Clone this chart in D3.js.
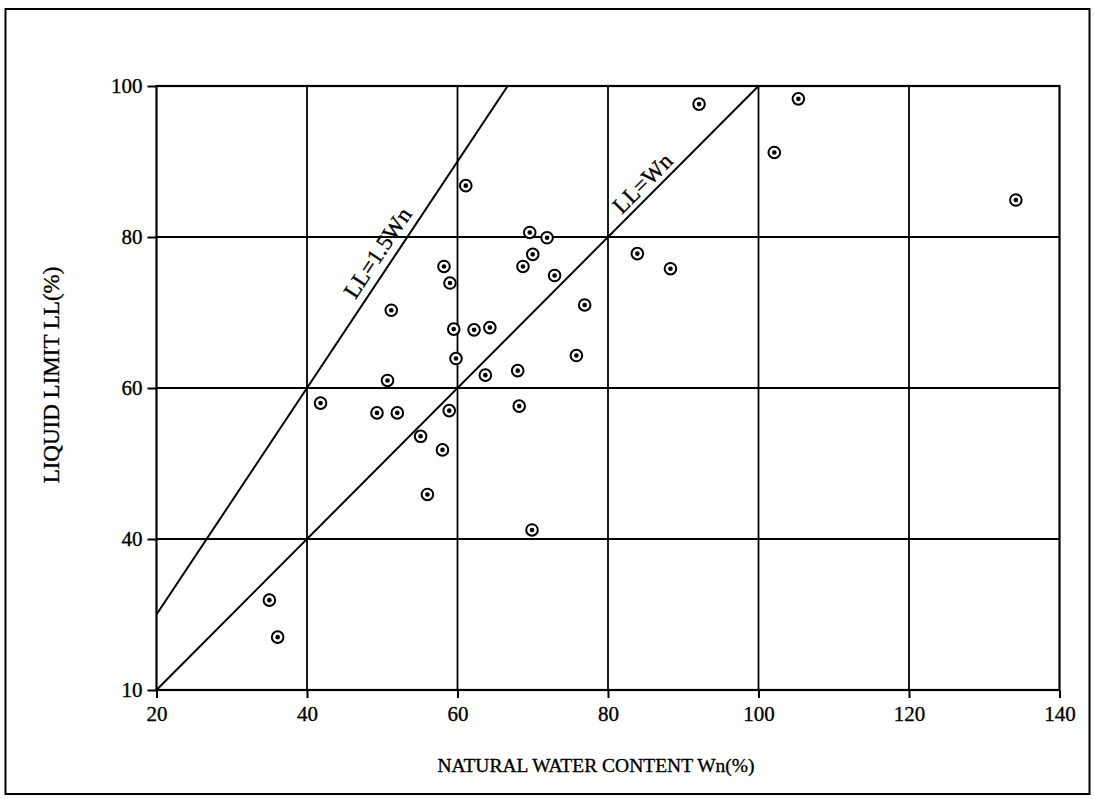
<!DOCTYPE html>
<html>
<head>
<meta charset="utf-8">
<script src="https://cdn.jsdelivr.net/npm/d3@7"></script>
<style>
  html, body { margin: 0; padding: 0; background: #fff; }
  svg { display: block; }
  text { font-family: "Liberation Serif", "Times New Roman", serif; fill: #000; stroke: #000; stroke-width: 0.35px; }
</style>
</head>
<body>
<svg id="chart" width="1094" height="799"></svg>
<script>
// ---- data ----
const wn = [35.0, 36.1, 41.8, 49.3, 52.0, 50.7, 51.2, 55.1, 56.0, 58.0, 58.9, 58.2, 59.0, 59.5, 59.8, 61.1, 62.2, 64.3, 63.7, 68.0, 68.2, 68.7, 69.6, 70.0, 69.9, 71.9, 72.9, 75.8, 76.9, 83.9, 88.3, 92.1, 102.1, 105.3, 134.2];
const ll = [31.9, 27.0, 58.0, 56.7, 56.7, 61.0, 70.3, 53.6, 45.9, 51.8, 57.0, 76.1, 73.9, 67.8, 63.9, 86.8, 67.7, 68.0, 61.7, 62.3, 57.6, 76.1, 80.6, 77.7, 41.2, 79.9, 74.9, 64.3, 71.0, 77.8, 75.8, 97.6, 91.2, 98.3, 84.9];
const xTickValues = [20, 40, 60, 80, 100, 120, 140];
const xTickLabels = ["20", "40", "60", "80", "100", "120", "140"];
const yTickValues = [20, 40, 60, 80, 100];
const yTickLabels = ["10", "40", "60", "80", "100"];
const lineRatios = [1.5, 1.0];
const lineLabels = ["LL=1.5Wn", "LL=Wn"];
const xTitle = "NATURAL WATER CONTENT Wn(%)";
const yTitle = "LIQUID LIMIT LL(%)";

// ---- layout ----
const svg = d3.select("#chart");
const L = 156.5, R = 1059.5, T = 86, B = 690;
const x = d3.scaleLinear().domain([20, 140]).range([L, R]);
const y = d3.scaleLinear().domain([20, 100]).range([B, T]);

// outer frame
svg.append("rect").attr("x", 5.5).attr("y", 9).attr("width", 1084).attr("height", 785)
  .attr("fill", "none").attr("stroke", "#000").attr("stroke-width", 2);

// grid
const g = svg.append("g");
g.selectAll("line.vg").data(xTickValues.slice(1, -1)).join("line")
  .attr("x1", d => x(d)).attr("x2", d => x(d)).attr("y1", T).attr("y2", B)
  .attr("stroke", "#000").attr("stroke-width", 1.8);
g.selectAll("line.hg").data(yTickValues.slice(1, -1)).join("line")
  .attr("x1", L).attr("x2", R).attr("y1", d => y(d)).attr("y2", d => y(d))
  .attr("stroke", "#000").attr("stroke-width", 1.8);

// axes
const xAxis = d3.axisBottom(x).tickValues(xTickValues)
  .tickFormat((d, i) => xTickLabels[i]).tickSize(8).tickPadding(8);
const yAxis = d3.axisLeft(y).tickValues(yTickValues)
  .tickFormat((d, i) => yTickLabels[i]).tickSize(9).tickPadding(5);
const gx = svg.append("g").attr("transform", `translate(0,${B})`).call(xAxis);
const gy = svg.append("g").attr("transform", `translate(${L},0)`).call(yAxis);
[gx, gy].forEach(a => {
  a.select(".domain").remove();
  a.selectAll(".tick line").attr("stroke", "#000").attr("stroke-width", 2);
  a.selectAll(".tick text").style("font-family", '"Liberation Serif", serif')
    .style("font-size", "21px").attr("fill", "#000");
});

// plot border
svg.append("rect").attr("x", L).attr("y", T).attr("width", R - L).attr("height", B - T)
  .attr("fill", "none").attr("stroke", "#000").attr("stroke-width", 2.2);

// reference lines LL = k * Wn, clipped to plot
svg.append("clipPath").attr("id", "clip").append("rect")
  .attr("x", L).attr("y", T).attr("width", R - L).attr("height", B - T);
const refG = svg.append("g").attr("clip-path", "url(#clip)");
lineRatios.forEach(k => {
  const w0 = 20, w1 = Math.min(140, 100 / k);
  refG.append("line")
    .attr("x1", x(w0)).attr("y1", y(k * w0))
    .attr("x2", x(w1)).attr("y2", y(k * w1))
    .attr("stroke", "#000").attr("stroke-width", 2);
});

// line labels
const labelPos = [[49.4, 77.9], [84.6, 87.1]];
lineRatios.forEach((k, i) => {
  const ang = Math.atan2(y(k * 60) - y(k * 40), x(60) - x(40)) * 180 / Math.PI;
  const px = x(labelPos[i][0]), py = y(labelPos[i][1]);
  svg.append("text")
    .attr("transform", `translate(${px},${py}) rotate(${ang})`)
    .attr("text-anchor", "middle").attr("dominant-baseline", "central")
    .style("font-size", "23px")
    .text(lineLabels[i]);
});

// points
const pts = wn.map((d, i) => [d, ll[i]]);
const pg = svg.append("g");
pg.selectAll("circle.ring").data(pts).join("circle")
  .attr("cx", d => x(d[0])).attr("cy", d => y(d[1])).attr("r", 5.8)
  .attr("fill", "#fff").attr("stroke", "#000").attr("stroke-width", 2);
pg.selectAll("circle.dot").data(pts).join("circle")
  .attr("cx", d => x(d[0])).attr("cy", d => y(d[1])).attr("r", 2.3)
  .attr("fill", "#000");

// titles
svg.append("text").attr("x", (L + R) / 2 - 12).attr("y", 772)
  .attr("text-anchor", "middle").style("font-size", "19.5px").text(xTitle);
svg.append("text").attr("transform", `translate(59,375) rotate(-90)`)
  .attr("text-anchor", "middle").style("font-size", "23px").text(yTitle);
</script>
</body>
</html>
